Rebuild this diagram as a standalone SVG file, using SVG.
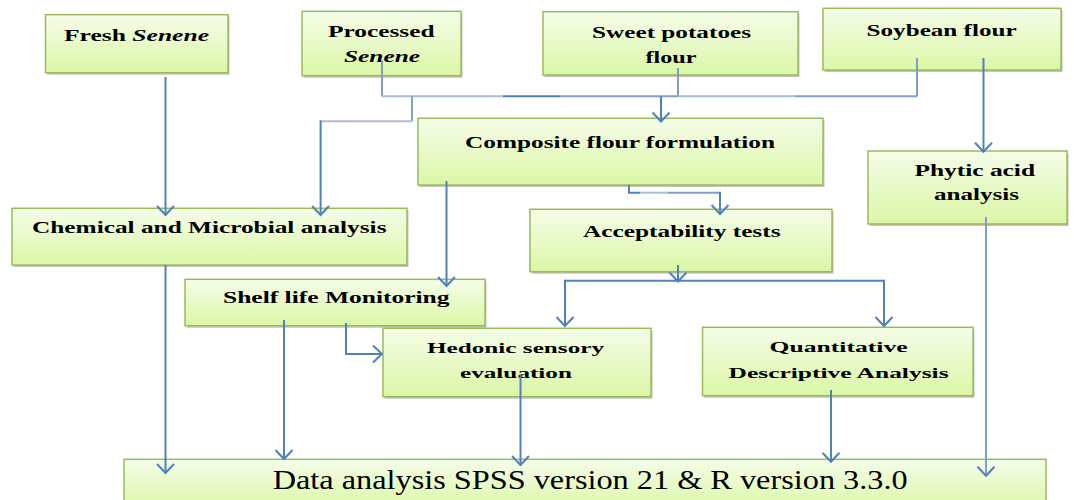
<svg xmlns="http://www.w3.org/2000/svg" width="1074" height="500" viewBox="0 0 1074 500">
  <defs>
    <linearGradient id="boxFill" x1="0" y1="0" x2="0" y2="1">
      <stop offset="0" stop-color="#f5fde9"/>
      <stop offset="1" stop-color="#dbf7a6"/>
    </linearGradient>
    <marker id="chev" markerUnits="userSpaceOnUse" viewBox="0 0 12 20" markerWidth="12" markerHeight="20" refX="10" refY="10" orient="auto">
      <path d="M1,1.5 L10,10 L1,18.5" fill="none" stroke="#4f81bd" stroke-width="2"/>
    </marker>
  </defs>
  <style>
    .box { fill: url(#boxFill); stroke: #9bbb59; stroke-width: 1.5; }
    .shadow { fill: #a8a8a8; opacity: 0.7; }
    .t { font-family: "Liberation Serif", "Times New Roman", serif; font-weight: bold; font-size: 17px; fill: #000; }
    .s { font-family: "Liberation Serif", "Times New Roman", serif; font-weight: bold; font-size: 15px; fill: #000; }
    .big { font-family: "Liberation Serif", "Times New Roman", serif; font-size: 27px; fill: #000; }
    .c { fill: none; stroke: #4f81bd; stroke-width: 2; }
    .mid { fill: none; stroke: #7f9ec8; stroke-width: 2; }
    .lt { fill: none; stroke: #afbdd2; stroke-width: 2; }
    .arr { marker-end: url(#chev); }
  </style>

  <g id="fresh-senene">
    <rect class="shadow" x="47" y="16.7" width="182.5" height="58"/>
    <rect class="box" x="45.5" y="14.7" width="182.5" height="58"/>
    <text class="t" x="64" y="41" textLength="145" lengthAdjust="spacingAndGlyphs">Fresh <tspan font-style="italic">Senene</tspan></text>
  </g>

  <g id="processed-senene">
    <rect class="shadow" x="303.5" y="13.3" width="159" height="64.4"/>
    <rect class="box" x="302" y="11.3" width="159" height="64.4"/>
    <text class="t" x="328" y="36.7" textLength="106.6" lengthAdjust="spacingAndGlyphs">Processed</text>
    <text class="t" x="344" y="61.7" font-style="italic" textLength="76" lengthAdjust="spacingAndGlyphs">Senene</text>
  </g>

  <g id="sweet-potatoes-flour">
    <rect class="shadow" x="544.5" y="13.7" width="255" height="63.3"/>
    <rect class="box" x="543" y="11.7" width="255" height="63.3"/>
    <text class="t" x="592" y="38.3" textLength="159" lengthAdjust="spacingAndGlyphs">Sweet potatoes</text>
    <text class="t" x="645.5" y="63.3" textLength="51" lengthAdjust="spacingAndGlyphs">flour</text>
  </g>

  <g id="soybean-flour">
    <rect class="shadow" x="824.5" y="10.3" width="238" height="61.7"/>
    <rect class="box" x="823" y="8.3" width="238" height="61.7"/>
    <text class="t" x="866.6" y="36" textLength="150" lengthAdjust="spacingAndGlyphs">Soybean flour</text>
  </g>

  <g id="composite-flour">
    <rect class="shadow" x="419.5" y="120.3" width="405" height="66.7"/>
    <rect class="box" x="418" y="118.3" width="405" height="66.7"/>
    <text class="t" x="465" y="148.3" textLength="310" lengthAdjust="spacingAndGlyphs">Composite flour formulation</text>
  </g>

  <g id="phytic-acid">
    <rect class="shadow" x="869.5" y="153" width="199" height="73"/>
    <rect class="box" x="868" y="151" width="199" height="73"/>
    <text class="t" x="914.5" y="175.7" textLength="120.5" lengthAdjust="spacingAndGlyphs">Phytic acid</text>
    <text class="t" x="934" y="200" textLength="85" lengthAdjust="spacingAndGlyphs">analysis</text>
  </g>

  <g id="chemical-microbial">
    <rect class="shadow" x="13.5" y="210.3" width="395" height="56.7"/>
    <rect class="box" x="12" y="208.3" width="395" height="56.7"/>
    <text class="t" x="32" y="233" textLength="354.5" lengthAdjust="spacingAndGlyphs">Chemical and Microbial analysis</text>
  </g>

  <g id="acceptability">
    <rect class="shadow" x="531.5" y="211.3" width="302" height="62.4"/>
    <rect class="box" x="530" y="209.3" width="302" height="62.4"/>
    <text class="t" x="583" y="236.5" textLength="197.5" lengthAdjust="spacingAndGlyphs">Acceptability tests</text>
  </g>

  <g id="shelf-life">
    <rect class="shadow" x="186.5" y="281.3" width="300" height="46.4"/>
    <rect class="box" x="185" y="279.3" width="300" height="46.4"/>
    <text class="t" x="223" y="303.3" textLength="226.5" lengthAdjust="spacingAndGlyphs">Shelf life Monitoring</text>
  </g>

  <g id="hedonic">
    <rect class="shadow" x="384.5" y="330.3" width="268" height="68.4"/>
    <rect class="box" x="383" y="328.3" width="268" height="68.4"/>
    <text class="s" x="427" y="352.5" textLength="177" lengthAdjust="spacingAndGlyphs">Hedonic sensory</text>
    <text class="s" x="460" y="378.3" textLength="112" lengthAdjust="spacingAndGlyphs">evaluation</text>
  </g>

  <g id="qda">
    <rect class="shadow" x="704" y="329.3" width="270.5" height="68.4"/>
    <rect class="box" x="702.5" y="327.3" width="270.5" height="68.4"/>
    <text class="s" x="769.6" y="351.5" textLength="138" lengthAdjust="spacingAndGlyphs">Quantitative</text>
    <text class="s" x="728.6" y="378.3" textLength="220" lengthAdjust="spacingAndGlyphs">Descriptive Analysis</text>
  </g>

  <g id="data-analysis">
    <rect class="box" x="124" y="459.3" width="922" height="50"/>
    <text class="big" x="272.7" y="489.3" textLength="635" lengthAdjust="spacingAndGlyphs">Data analysis SPSS version 21 &amp; R version 3.3.0</text>
  </g>

  <!-- connectors, drawn over the boxes -->
  <g id="connectors">
    <!-- raw materials into the formulation -->
    <path class="mid" d="M382,60 V96.3"/>
    <path class="mid" d="M678,68 V96.3"/>
    <path class="mid" d="M917,58 V96.3"/>
    <path class="lt" d="M382,96.3 H503"/>
    <path class="c" d="M503,96.3 H560"/>
    <path class="mid" d="M560,96.3 H678"/>
    <path class="lt" d="M678,96.3 H795"/>
    <path class="mid" d="M795,96.3 H917"/>
    <path class="c arr" d="M661,96.3 V121.5"/>
    <!-- processed branch to chemical analysis -->
    <path class="mid" d="M412,96.3 V121.3"/>
    <path class="lt" d="M412,121.3 H320.6"/>
    <path class="c arr" d="M320.6,120.3 V215"/>
    <!-- fresh to chemical, chemical to data -->
    <path class="c arr" d="M165.5,77 V215"/>
    <path class="c arr" d="M165.5,265 V473"/>
    <!-- formulation to shelf life and acceptability -->
    <path class="c arr" d="M446.5,181 V286"/>
    <path class="c" d="M629,185 V192.7 H640"/>
    <path class="lt" d="M640,192.7 H668"/>
    <path class="mid" d="M668,192.7 H720"/>
    <path class="c arr" d="M720,191.7 V214"/>
    <!-- soybean to phytic acid, phytic to data -->
    <path class="c arr" d="M983.5,58 V151.7"/>
    <path class="mid arr" d="M986,217 V475.7"/>
    <!-- acceptability split -->
    <path class="c arr" d="M678,265 V281.5"/>
    <path class="c" d="M565,280.7 H884"/>
    <path class="c arr" d="M565,279.7 V326"/>
    <path class="c arr" d="M884,279.7 V326"/>
    <!-- shelf life outputs -->
    <path class="c arr" d="M284,320 V459"/>
    <path class="c arr" d="M346,323 V354 H382"/>
    <!-- sensory outputs to data analysis -->
    <path class="c arr" d="M520.5,375 V465"/>
    <path class="c arr" d="M831,390 V461.7"/>
  </g>
</svg>
